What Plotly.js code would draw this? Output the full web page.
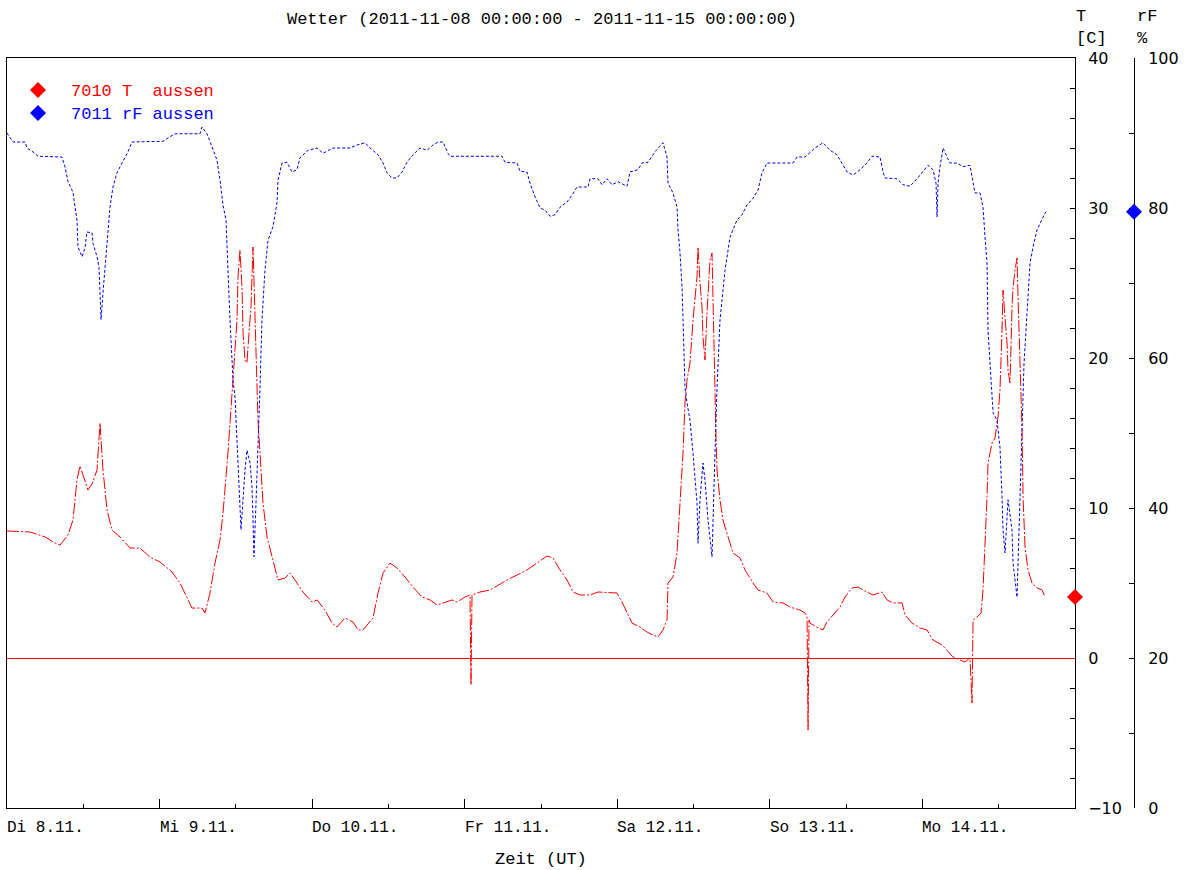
<!DOCTYPE html>
<html>
<head>
<meta charset="utf-8">
<script src="https://cdn.plot.ly/plotly-3.0.1.min.js"></script>
<style>html,body{margin:0;padding:0;background:#fff;}#chart{width:1186px;height:870px;}</style>
</head>
<body>
<div id="chart"></div>
<script>
// ---- data (hours since 2011-11-08 00:00 UT) ----
const startDate = '2011-11-08 00:00:00';
const endDate = '2011-11-15 00:00:00';
const chartTitle = 'Wetter (2011-11-08 00:00:00 - 2011-11-15 00:00:00)';
const seriesNames = ['7010 T\u00a0\u00a0aussen', '7011 rF aussen'];
const dayLabels = ['Di 8.11.', 'Mi 9.11.', 'Do 10.11.', 'Fr 11.11.', 'Sa 12.11.', 'So 13.11.', 'Mo 14.11.'];
const xTitle = 'Zeit (UT)';

const hoursT = [0,3.62,5.98,7.55,8.34,9.60,10.38,11.01,11.48,12.11,
12.74,13.37,14.16,14.63,15.10,15.73,16.52,17.78,19.35,20.92,
22.49,24.07,25.96,27.21,28.32,29.10,30.67,31.15,31.93,32.72,
33.51,33.98,34.76,35.39,35.71,36.18,36.34,36.65,36.97,37.13,
37.44,37.75,37.91,38.38,38.70,39.01,39.33,39.48,39.80,40.27,
40.90,41.84,42.63,43.73,44.52,45.62,46.56,47.98,48.77,50.02,
51.12,51.91,53.17,54.43,55.21,56.00,56.63,57.57,58.36,59.15,
60.25,61.35,62.61,63.87,65.28,66.54,67.64,68.59,70.00,70.79,
72.05,72.83,72.99,73.15,74.41,75.98,77.24,78.65,80.23,81.80,
83.37,84.94,85.89,86.99,88.09,89.04,90.14,91.71,92.97,94.86,
95.96,96.74,97.53,98.32,99.57,100.68,101.62,102.41,103.19,103.82,
103.98,104.77,105.40,105.87,106.34,106.65,106.97,107.44,107.91,108.54,
108.70,109.01,109.33,109.48,109.80,110.11,110.58,110.90,111.05,111.21,
111.37,111.53,111.69,112.16,112.63,113.42,114.20,115.31,116.09,117.35,
118.14,119.55,120.50,122.07,123.17,124.74,125.53,125.85,126.01,126.16,
126.32,127.58,128.36,128.99,130.25,131.04,131.82,132.92,133.87,134.65,
136.23,137.64,138.43,139.37,140.79,141.26,142.36,143.62,144.72,145.67,
147.08,147.87,148.81,149.91,150.70,151.48,151.80,151.96,152.58,153.21,
153.53,154.16,154.32,154.95,155.42,155.89,156.20,156.52,156.68,156.99,
157.31,157.46,157.78,158.09,158.25,158.57,158.88,159.04,159.35,159.67,
159.83,160.14,160.61,161.24,162.03,162.82,163.28];

const tempT = [8.47,8.40,8.07,7.67,7.53,8.20,9.20,11.87,12.80,12.0,
11.2,11.6,12.53,15.67,12.53,9.87,8.53,8.07,7.33,7.33,
6.73,6.40,5.73,5.0,4.07,3.33,3.33,3.0,4.33,6.33,
7.87,9.67,13.67,17.40,19.20,22.53,25.40,27.20,24.73,21.67,
19.87,19.67,20.73,23.40,27.40,23.40,18.73,15.87,13.67,10.33,
8.07,6.53,5.20,5.33,5.67,5.0,4.40,3.73,3.87,3.20,
2.33,2.07,2.67,2.40,1.87,1.87,2.20,2.67,4.33,5.67,
6.33,6.0,5.40,4.73,4.07,3.87,3.53,3.67,3.87,3.73,
4.07,4.20,-1.8,4.2,4.40,4.53,4.87,5.20,5.53,5.87,
6.33,6.80,6.67,5.87,5.20,4.40,4.20,4.20,4.40,4.33,
4.33,3.73,3.0,2.33,2.07,1.73,1.53,1.40,1.87,2.53,
5.0,5.40,7.0,10.33,13.67,17.0,18.53,19.67,22.53,25.40,
27.40,25.0,23.40,21.40,19.87,23.0,26.53,27.0,23.67,20.33,
17.0,14.73,12.53,10.53,9.20,8.07,7.0,6.67,5.87,5.0,
4.53,4.33,3.73,3.67,3.40,3.20,3.0,2.73,-4.8,2.53,
2.33,2.0,1.87,2.40,3.0,3.40,4.07,4.67,4.73,4.53,
4.20,4.40,3.87,3.67,3.67,2.87,2.33,2.0,1.87,1.20,
0.87,0.53,0.07,-0.13,-0.27,0.0,-3.0,2.53,2.73,3.0,
4.53,10.73,13.0,14.33,14.67,16.07,17.87,21.87,24.53,22.73,
21.0,19.2,18.33,23.40,24.67,25.87,26.67,24.07,19.67,15.20,
10.73,7.40,5.87,5.0,4.67,4.53,4.07];

const hoursRF = [0,0.94,2.83,3.15,4.40,4.88,8.65,9.12,9.60,10.38,
10.70,11.01,11.17,11.80,12.27,12.58,13.37,13.53,14.16,14.47,
14.63,14.79,15.10,15.42,15.73,16.20,16.67,17.30,18.09,19.03,
19.66,24.54,25.64,26.43,30.36,30.67,31.46,32.25,33.03,33.51,
33.98,34.45,34.61,34.76,35.08,35.39,35.55,35.87,36.18,36.34,
36.65,36.81,37.44,37.75,38.23,38.54,38.70,38.85,39.17,39.48,
39.80,40.11,40.58,41.06,41.84,42.47,42.63,43.26,44.05,44.83,
45.62,46.09,47.35,48.77,49.71,51.28,53.96,55.06,56.32,57.10,
58.36,59.15,59.78,60.56,61.35,62.14,62.92,63.87,64.97,66.07,
67.01,67.80,68.59,69.37,69.69,77.87,78.34,80.23,80.70,81.80,
82.27,83.06,83.85,84.63,85.42,86.20,86.99,88.09,88.88,89.67,
91.40,91.71,92.97,93.60,94.38,95.17,96.11,97.53,98.00,99.26,
99.89,100.83,101.93,103.19,103.82,103.98,104.77,105.40,105.55,105.87,
106.18,106.34,106.50,106.65,106.97,107.44,107.91,108.54,108.70,109.01,
109.48,109.80,110.27,110.90,111.37,111.69,112.16,112.95,113.73,114.83,
115.62,116.41,117.35,118.14,118.77,119.55,123.64,124.27,125.53,127.10,
128.36,129.46,130.56,131.51,132.14,133.08,134.18,135.28,136.07,137.33,
137.80,138.12,140.00,140.95,142.05,143.15,143.94,144.88,145.67,146.14,
146.30,146.45,146.77,147.24,147.87,148.34,149.44,150.38,151.48,151.80,
152.27,153.06,153.53,153.85,154.16,154.32,154.79,155.11,155.73,156.20,
156.52,156.68,156.99,157.46,158.09,158.25,158.88,159.35,159.67,159.98,
160.45,160.93,161.40,162.03,163.28,163.44];

const humRF = [90.0,88.8,88.8,88.0,87.3,86.9,86.8,85.5,83.5,82.1,
80.1,78.4,74.8,73.5,74.7,76.8,76.7,75.3,73.5,72.1,
68.7,65.1,68.7,72.1,75.7,80.1,82.8,84.7,86.0,87.5,
88.8,88.9,89.5,89.9,89.9,90.8,89.9,88.1,86.4,83.7,
80.4,78.4,75.7,71.7,65.1,60.7,57.1,54.8,49.5,45.1,
40.7,37.1,45.1,47.7,46.0,42.8,38.4,33.5,40.7,47.3,
56.1,65.1,71.7,75.7,77.5,80.7,83.7,86.0,86.1,84.8,
85.1,86.7,87.7,88.0,87.3,88.0,88.0,88.4,88.7,88.0,
87.1,86.0,84.7,84.0,84.0,84.8,86.1,87.1,88.0,87.7,
88.4,88.8,88.8,87.3,86.9,86.9,86.1,86.0,84.9,84.8,
83.3,81.5,80.0,79.7,78.9,79.1,80.1,80.8,81.7,82.8,
82.8,83.9,83.9,83.1,83.9,83.1,83.5,82.9,84.8,85.1,
86.0,86.1,87.5,88.7,86.8,83.3,82.0,80.1,77.1,74.0,
69.5,65.1,60.7,56.1,54.0,51.7,47.3,40.7,35.3,41.1,
46.0,43.7,38.4,33.5,47.3,56.1,65.1,71.7,76.1,78.4,
79.1,80.4,81.3,82.4,84.7,86.0,86.0,86.8,86.8,88.0,
88.7,87.7,87.1,85.7,84.8,84.4,85.1,86.0,86.9,86.8,
84.8,84.0,83.9,83.1,82.9,83.9,84.7,85.7,85.1,83.3,
78.8,83.3,85.5,88.0,86.8,86.0,86.0,85.5,85.7,84.1,
82.0,82.0,80.1,76.1,72.7,63.7,57.1,52.7,51.7,48.1,
41.5,37.1,34.0,41.1,37.1,32.7,28.1,41.5,50.4,59.3,
66.0,72.7,74.8,77.1,79.3,79.5];

// ---- helpers ----
const t0 = Date.UTC(2011, 10, 8);
function toDate(h) { return new Date(t0 + h * 3600000).toISOString().replace('T', ' ').slice(0, 19); }

const W = 1186, H = 870;
const M = {l: 7, r: 40, t: 58, b: 62};
const paperW = W - M.l - M.r, paperH = H - M.t - M.b;
const xDomEnd = 1068 / paperW;
const rfAxisPos = (1134 - M.l) / paperW;
const px2x = px => (px - M.l) / paperW;
const px2y = py => (H - M.b - py) / paperH;

const RED = '#ff0000', BLUE = '#0000ff';
const MONO = 'Liberation Mono, Courier New, monospace';
const SANS = 'DejaVu Sans, Arial, sans-serif';
const diamond = 'M 0 8 L 8 0 L 0 -8 L -8 0 Z';
const legDiamond = 'M 0 8 L 8 0 L 0 -8 L -8 0 Z';

const traces = [
  {x: hoursRF.map(toDate), y: humRF, yaxis: 'y2', type: 'scatter', mode: 'lines',
   line: {color: BLUE, width: 1, dash: '3px,2px'}, name: seriesNames[1], hoverinfo: 'skip'},
  {x: hoursT.map(toDate), y: tempT, yaxis: 'y', type: 'scatter', mode: 'lines',
   line: {color: RED, width: 1, dash: '12px,2px,2px,2px'}, name: seriesNames[0], hoverinfo: 'skip'}
];

const annotations = [];
dayLabels.forEach((lab, i) => {
  annotations.push({x: toDate(24 * i), xref: 'x', y: 0, yref: 'paper', yanchor: 'top', xanchor: 'left',
    yshift: -9, xshift: -2, text: lab, showarrow: false, font: {family: MONO, size: 16, color: '#000'}});
});
annotations.push({x: px2x(541), xref: 'paper', y: px2y(859), yref: 'paper', xanchor: 'center', yanchor: 'middle',
  text: xTitle, showarrow: false, font: {family: MONO, size: 17, color: '#000'}});
annotations.push({x: px2x(1074), xref: 'paper', y: px2y(28), yref: 'paper', xanchor: 'left', yanchor: 'middle',
  text: 'T<br>[C]', align: 'left', showarrow: false, font: {family: MONO, size: 17, color: '#000'}});
annotations.push({x: px2x(1135), xref: 'paper', y: px2y(28), yref: 'paper', xanchor: 'left', yanchor: 'middle',
  text: 'rF<br>%', align: 'left', showarrow: false, font: {family: MONO, size: 17, color: '#000'}});
[RED, BLUE].forEach((c, i) => {
  annotations.push({x: px2x(69), xref: 'paper', y: px2y(91 + 23 * i), yref: 'paper', xanchor: 'left', yanchor: 'middle',
    text: seriesNames[i], showarrow: false, font: {family: MONO, size: 17, color: c}});
});

const shapes = [
  {type: 'line', xref: 'x domain', x0: 0, x1: 1, yref: 'y', ysizemode: 'pixel', yanchor: 0, y0: -0.5, y1: -0.5,
   line: {color: RED, width: 1}, layer: 'above'},
  {type: 'path', xref: 'x domain', xsizemode: 'pixel', xanchor: 1, yref: 'y', ysizemode: 'pixel',
   yanchor: tempT[tempT.length - 1], path: diamond, fillcolor: RED, line: {width: 0}},
  {type: 'path', xref: 'paper', xsizemode: 'pixel', xanchor: rfAxisPos, yref: 'y2', ysizemode: 'pixel',
   yanchor: humRF[humRF.length - 1], path: diamond, fillcolor: BLUE, line: {width: 0}},
  {type: 'path', xref: 'paper', xsizemode: 'pixel', xanchor: px2x(38), yref: 'paper', ysizemode: 'pixel',
   yanchor: px2y(90), path: legDiamond, fillcolor: RED, line: {width: 0}},
  {type: 'path', xref: 'paper', xsizemode: 'pixel', xanchor: px2x(38), yref: 'paper', ysizemode: 'pixel',
   yanchor: px2y(113), path: legDiamond, fillcolor: BLUE, line: {width: 0}}
];

const layout = {
  width: W, height: H, margin: M,
  paper_bgcolor: '#fff', plot_bgcolor: '#fff', showlegend: false,
  title: {text: chartTitle, x: 542 / W, xref: 'container', xanchor: 'center', y: 1 - 18 / H, yref: 'container',
          yanchor: 'middle', font: {family: MONO, size: 17, color: '#000'}},
  xaxis: {type: 'date', domain: [0, xDomEnd], range: [startDate, endDate], showgrid: false, zeroline: false,
    showline: true, mirror: true, linecolor: '#000', linewidth: 1,
    tickmode: 'linear', tick0: startDate, dtick: 86400000, ticks: 'inside', ticklen: 9, tickcolor: '#000',
    showticklabels: false,
    minor: {dtick: 43200000, tick0: startDate, ticks: 'inside', ticklen: 4, tickcolor: '#000', showgrid: false}},
  yaxis: {range: [-10, 40], side: 'right', showgrid: false, zeroline: false, showline: true, mirror: true,
    linecolor: '#000', linewidth: 1, tickmode: 'linear', tick0: 0, dtick: 10, ticks: 'inside', ticklen: 5,
    tickcolor: '#000', ticklabelstandoff: 9, tickfont: {family: SANS, size: 16, color: '#000'},
    minor: {dtick: 2, tick0: 0, ticks: 'inside', ticklen: 5, tickcolor: '#000', showgrid: false}},
  yaxis2: {range: [0, 100], overlaying: 'y', side: 'right', anchor: 'free', position: rfAxisPos,
    showgrid: false, zeroline: false, showline: true, linecolor: '#000', linewidth: 1,
    tickmode: 'linear', tick0: 0, dtick: 20, ticks: 'inside', ticklen: 5, tickcolor: '#000',
    ticklabelstandoff: 10, tickfont: {family: SANS, size: 16, color: '#000'},
    minor: {dtick: 10, tick0: 0, ticks: 'inside', ticklen: 5, tickcolor: '#000', showgrid: false}},
  annotations: annotations,
  shapes: shapes
};

Plotly.newPlot('chart', traces, layout, {displayModeBar: false, staticPlot: true});
</script>
</body>
</html>
